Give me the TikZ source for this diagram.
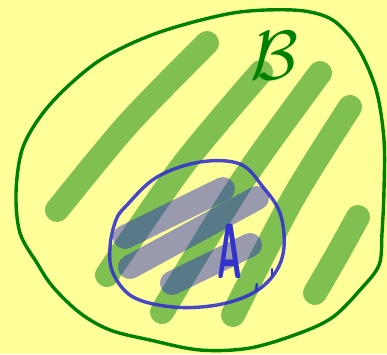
\documentclass[tikz,border=0pt]{standalone}
\usepackage{amsmath,amssymb}
\usepackage{xcolor}
\usepackage{tikz}
\definecolor{paper}{HTML}{FFFF99}
\definecolor{setgreen}{HTML}{008000}
\definecolor{stripegreen}{HTML}{80C050}
\definecolor{setblue}{HTML}{3333CC}
\definecolor{markblue}{HTML}{2A2AC8}

\begin{document}
\begin{tikzpicture}[x=1pt,y=-1pt,line cap=round,line join=round]
\fill[paper] (0,0) rectangle (387,354);
\useasboundingbox (0,0) rectangle (387,354);
% hatching of B
\foreach \p/\q/\r in {{57,210}/{128,124}/{207,43},{261,72}/{183,165}/{107,275},{320,73}/{243,180}/{162,312},{350,107}/{292,200}/{233,315},{358,217}/{337,255}/{315,293}}{\draw[stripegreen,line width=24pt] plot[smooth] coordinates {(\p) (\q) (\r)};}
% outline of B
\draw[setgreen,line width=3.4pt] plot[smooth cycle,tension=0.55] coordinates {(16,193) (22,150) (40,117) (67,87) (105,57) (160,32) (233,13) (293,10) (327,17) (347,33) (363,57) (377,93) (384,140) (384,190) (382,233) (379,265) (360,290) (333,317) (300,333) (250,348) (200,350) (150,340) (110,330) (80,313) (53,287) (37,263) (20,233)};
% hatching of A
\foreach \p/\q in {{223,189}/{125,237},{257,198}/{130,267},{250,245}/{172,283}}{\draw[markblue,opacity=0.47,line width=24pt] (\p)--(\q);}
% outline of A
\draw[setblue,line width=3.4pt,opacity=0.9] plot[smooth cycle,tension=0.6] coordinates {(110,247) (116,220) (127,205) (157,177) (200,162) (240,164) (263,187) (280,213) (284,247) (275,273) (253,293) (217,305) (173,307) (133,297) (113,273)};
\draw[setblue,line width=2.4pt] (272,269)--(272,275) (257,284)--(256,290);
\node[setblue,font=\Huge\sffamily\bfseries,xscale=1.35,yscale=3.15,transform shape] (setA) at (230,251) {A};
\node[setgreen,font=\Huge,scale=2.8,transform shape] (setB) at (274,56) {$\mathcal{B}$};
\end{tikzpicture}
\end{document}
